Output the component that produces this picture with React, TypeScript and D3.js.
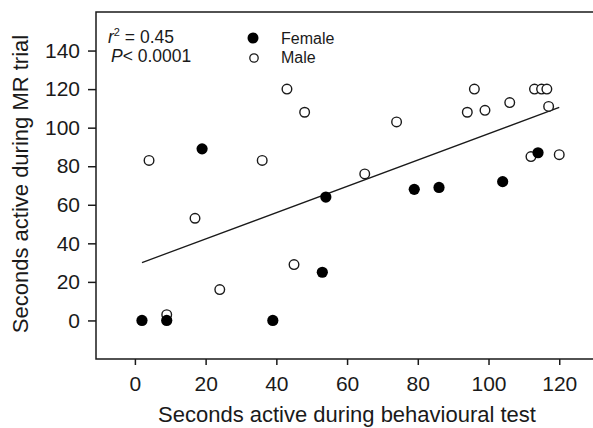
import React, { useRef, useEffect } from "react";
import * as d3 from "d3";

// Female (filled) points: seconds active in behavioural test vs MR trial
const femaleX = [2, 9, 19, 39, 53, 54, 79, 86, 104, 114];
const femaleY = [0, 0, 89, 0, 25, 64, 68, 69, 72, 87];

// Male (open) points
const maleX = [4, 9, 17, 24, 36, 43, 45, 48, 65, 74, 94, 96, 99, 106, 112, 113, 115, 116.5, 117, 120];
const maleY = [83, 3, 53, 16, 83, 120, 29, 108, 76, 103, 108, 120, 109, 113, 85, 120, 120, 120, 111, 86];

// regression line end points
const fitX = [2, 120];
const fitY = [30, 110.5];

const xTicks = [0, 20, 40, 60, 80, 100, 120];
const yTicks = [0, 20, 40, 60, 80, 100, 120, 140];

const App = () => {
  const svgRef = useRef(null);

  useEffect(() => {
    const svg = d3.select(svgRef.current);
    svg.selectAll("*").remove();

    const width = 593;
    const font = "'Liberation Sans', Arial, sans-serif";
    const ink = "#1a1a1a";

    const x = d3.scaleLinear().domain([-11, 130]).range([96, 594.6]);
    const y = d3.scaleLinear().domain([-20, 160]).range([359, 12]);

    // frame: left, top, bottom (right side is cut off)
    svg
      .append("path")
      .attr("d", `M${width + 2},${y(160)}H${x(-11)}V${y(-20)}H${width + 2}`)
      .attr("fill", "none")
      .attr("stroke", ink)
      .attr("stroke-width", 1.5);

    // x axis ticks
    const xAxis = svg
      .append("g")
      .attr("transform", `translate(0,${y(-20)})`)
      .call(d3.axisBottom(x).tickValues(xTicks).tickSize(6).tickPadding(11));
    xAxis.select(".domain").remove();
    xAxis.selectAll("line").attr("stroke", ink).attr("stroke-width", 1.5);
    xAxis
      .selectAll("text")
      .attr("fill", ink)
      .style("font-family", font)
      .style("font-size", "21px");

    // y axis ticks
    const yAxis = svg
      .append("g")
      .attr("transform", `translate(${x(-11)},0)`)
      .call(d3.axisLeft(y).tickValues(yTicks).tickSize(8).tickPadding(8));
    yAxis.select(".domain").remove();
    yAxis.selectAll("line").attr("stroke", ink).attr("stroke-width", 1.5);
    yAxis
      .selectAll("text")
      .attr("fill", ink)
      .style("font-family", font)
      .style("font-size", "21px");

    // axis titles
    svg
      .append("text")
      .attr("x", 347)
      .attr("y", 422)
      .attr("text-anchor", "middle")
      .attr("fill", ink)
      .style("font-family", font)
      .style("font-size", "22px")
      .text("Seconds active during behavioural test");

    svg
      .append("text")
      .attr("transform", "translate(28,184) rotate(-90)")
      .attr("text-anchor", "middle")
      .attr("fill", ink)
      .style("font-family", font)
      .style("font-size", "22px")
      .text("Seconds active during MR trial");

    // regression line
    const line = d3
      .line<number>()
      .x((d) => x(fitX[d]))
      .y((d) => y(fitY[d]));
    svg
      .append("path")
      .datum([0, 1])
      .attr("d", line)
      .attr("fill", "none")
      .attr("stroke", ink)
      .attr("stroke-width", 1.3);

    // male points
    svg
      .append("g")
      .selectAll("circle")
      .data(maleX.map((v, i) => [v, maleY[i]]))
      .join("circle")
      .attr("cx", (d) => x(d[0]))
      .attr("cy", (d) => y(d[1]))
      .attr("r", 4.8)
      .attr("fill", "white")
      .attr("stroke", ink)
      .attr("stroke-width", 1.4);

    // female points
    svg
      .append("g")
      .selectAll("circle")
      .data(femaleX.map((v, i) => [v, femaleY[i]]))
      .join("circle")
      .attr("cx", (d) => x(d[0]))
      .attr("cy", (d) => y(d[1]))
      .attr("r", 5.6)
      .attr("fill", "black");

    // stats text
    const stats = svg
      .append("g")
      .style("font-family", font)
      .style("font-size", "17.5px")
      .attr("fill", ink);
    const r2 = stats.append("text").attr("x", 108).attr("y", 43);
    r2.append("tspan").style("font-style", "italic").text("r");
    r2.append("tspan").attr("dy", -7).style("font-size", "11px").text("2");
    r2.append("tspan").attr("dy", 7).text(" = 0.45");
    const p = stats.append("text").attr("x", 111).attr("y", 62);
    p.append("tspan").style("font-style", "italic").text("P");
    p.append("tspan").text("< 0.0001");

    // legend
    const legend = svg
      .append("g")
      .style("font-family", font)
      .style("font-size", "16px");
    legend.append("circle").attr("cx", 253).attr("cy", 38).attr("r", 5.5).attr("fill", "black");
    legend
      .append("circle")
      .attr("cx", 254)
      .attr("cy", 58)
      .attr("r", 4.2)
      .attr("fill", "white")
      .attr("stroke", ink)
      .attr("stroke-width", 1.3);
    legend.append("text").attr("x", 281).attr("y", 44).attr("fill", ink).text("Female");
    legend.append("text").attr("x", 281).attr("y", 63).attr("fill", ink).text("Male");
  }, []);

  return (
    <svg
      ref={svgRef}
      width={593}
      height={428}
      style={{ position: "absolute", left: 0, top: 0, background: "white" }}
    ></svg>
  );
};

export default App;
